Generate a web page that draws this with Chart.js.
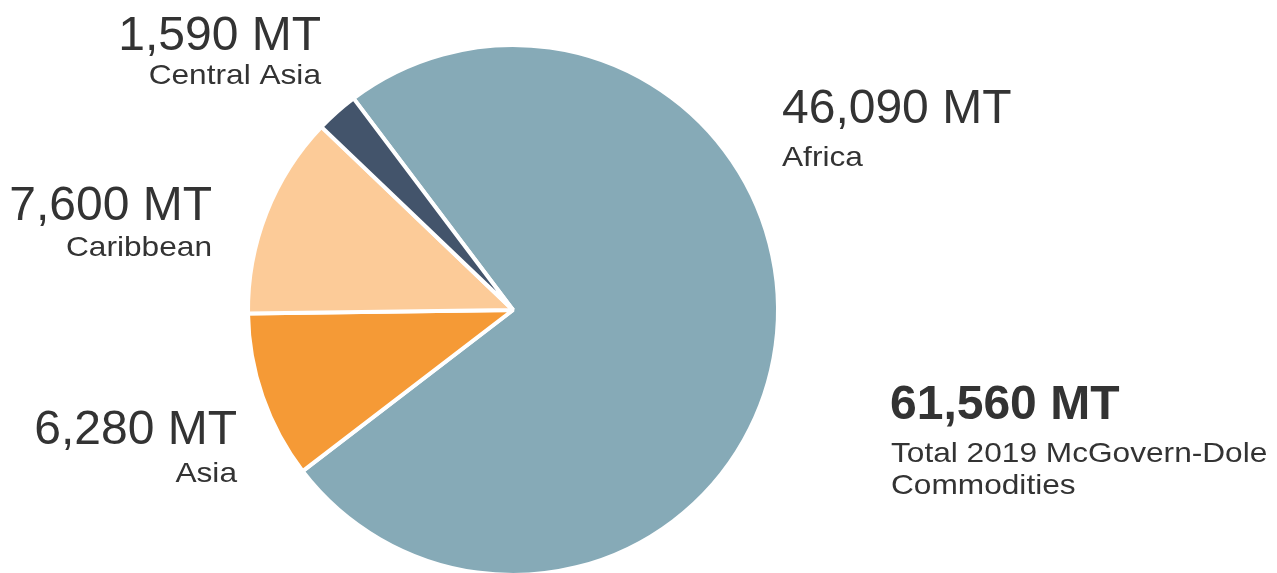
<!DOCTYPE html>
<html>
<head>
<meta charset="utf-8">
<title>McGovern-Dole Commodities 2019</title>
<script src="https://cdn.jsdelivr.net/npm/chart.js@4"></script>
<style>
  html, body { margin: 0; padding: 0; background: #fff; overflow: hidden; }
  #wrap { width: 1277px; height: 573px; overflow: hidden; }
</style>
</head>
<body>
<div id="wrap"><canvas id="pieChart" width="1277" height="620"></canvas></div>
<script>
// Commodities by region, metric tons
const regions = ['Africa', 'Asia', 'Caribbean', 'Central Asia'];
const tonnes = [46090, 6280, 7600, 1590];
const sliceColors = ['#86aab7', '#f59a36', '#fccb98', '#43546b'];
const totalCaption = ['Total 2019 McGovern-Dole', 'Commodities'];

const total = tonnes.reduce((a, b) => a + b, 0);
const fmt = v => v.toLocaleString('en-US') + ' MT';

// where each region label sits, which side it hangs from, and the gap to its name line
const labelSpots = [
  { x: 782, y: 123, align: 'left',  gap: 43 },  // Africa
  { x: 237, y: 444, align: 'right', gap: 38 },  // Asia
  { x: 212, y: 220, align: 'right', gap: 36 },  // Caribbean
  { x: 321, y: 50,  align: 'right', gap: 34 }   // Central Asia
];

const FONT = '"Liberation Sans", Arial, Helvetica, sans-serif';
const WIDE = 1.13; // the small caption face runs wider than Arial

// small text, stretched horizontally around its anchor point
function wideText(c, text, x, y, align) {
  c.save();
  c.translate(x, y);
  c.scale(WIDE, 1);
  c.textAlign = align;
  c.font = '28px ' + FONT;
  c.fillText(text, 0, 0);
  c.restore();
}

const labelPlugin = {
  id: 'sliceLabels',
  afterDraw(chart) {
    const c = chart.ctx;
    c.save();
    c.fillStyle = '#333333';
    c.textBaseline = 'alphabetic';
    labelSpots.forEach((p, i) => {
      c.textAlign = p.align;
      c.font = '48px ' + FONT;
      c.fillText(fmt(tonnes[i]), p.x, p.y);
      wideText(c, regions[i], p.x, p.y + p.gap, p.align);
    });
    // total block
    c.textAlign = 'left';
    c.font = 'bold 48px ' + FONT;
    c.fillText(fmt(total), 890, 419);
    wideText(c, totalCaption[0], 891, 462, 'left');
    wideText(c, totalCaption[1], 891, 494, 'left');
    c.restore();
  }
};

new Chart(document.getElementById('pieChart').getContext('2d'), {
  type: 'pie',
  data: {
    labels: regions,
    datasets: [{
      data: tonnes,
      backgroundColor: sliceColors,
      borderColor: '#ffffff',
      borderWidth: 4
    }]
  },
  options: {
    responsive: false,
    animation: false,
    events: [],
    rotation: -37,
    radius: 265,
    layout: {
      padding: { left: 248, right: 499, top: 45, bottom: 45 }
    },
    plugins: {
      legend: { display: false },
      tooltip: { enabled: false }
    }
  },
  plugins: [labelPlugin]
});
</script>
</body>
</html>
